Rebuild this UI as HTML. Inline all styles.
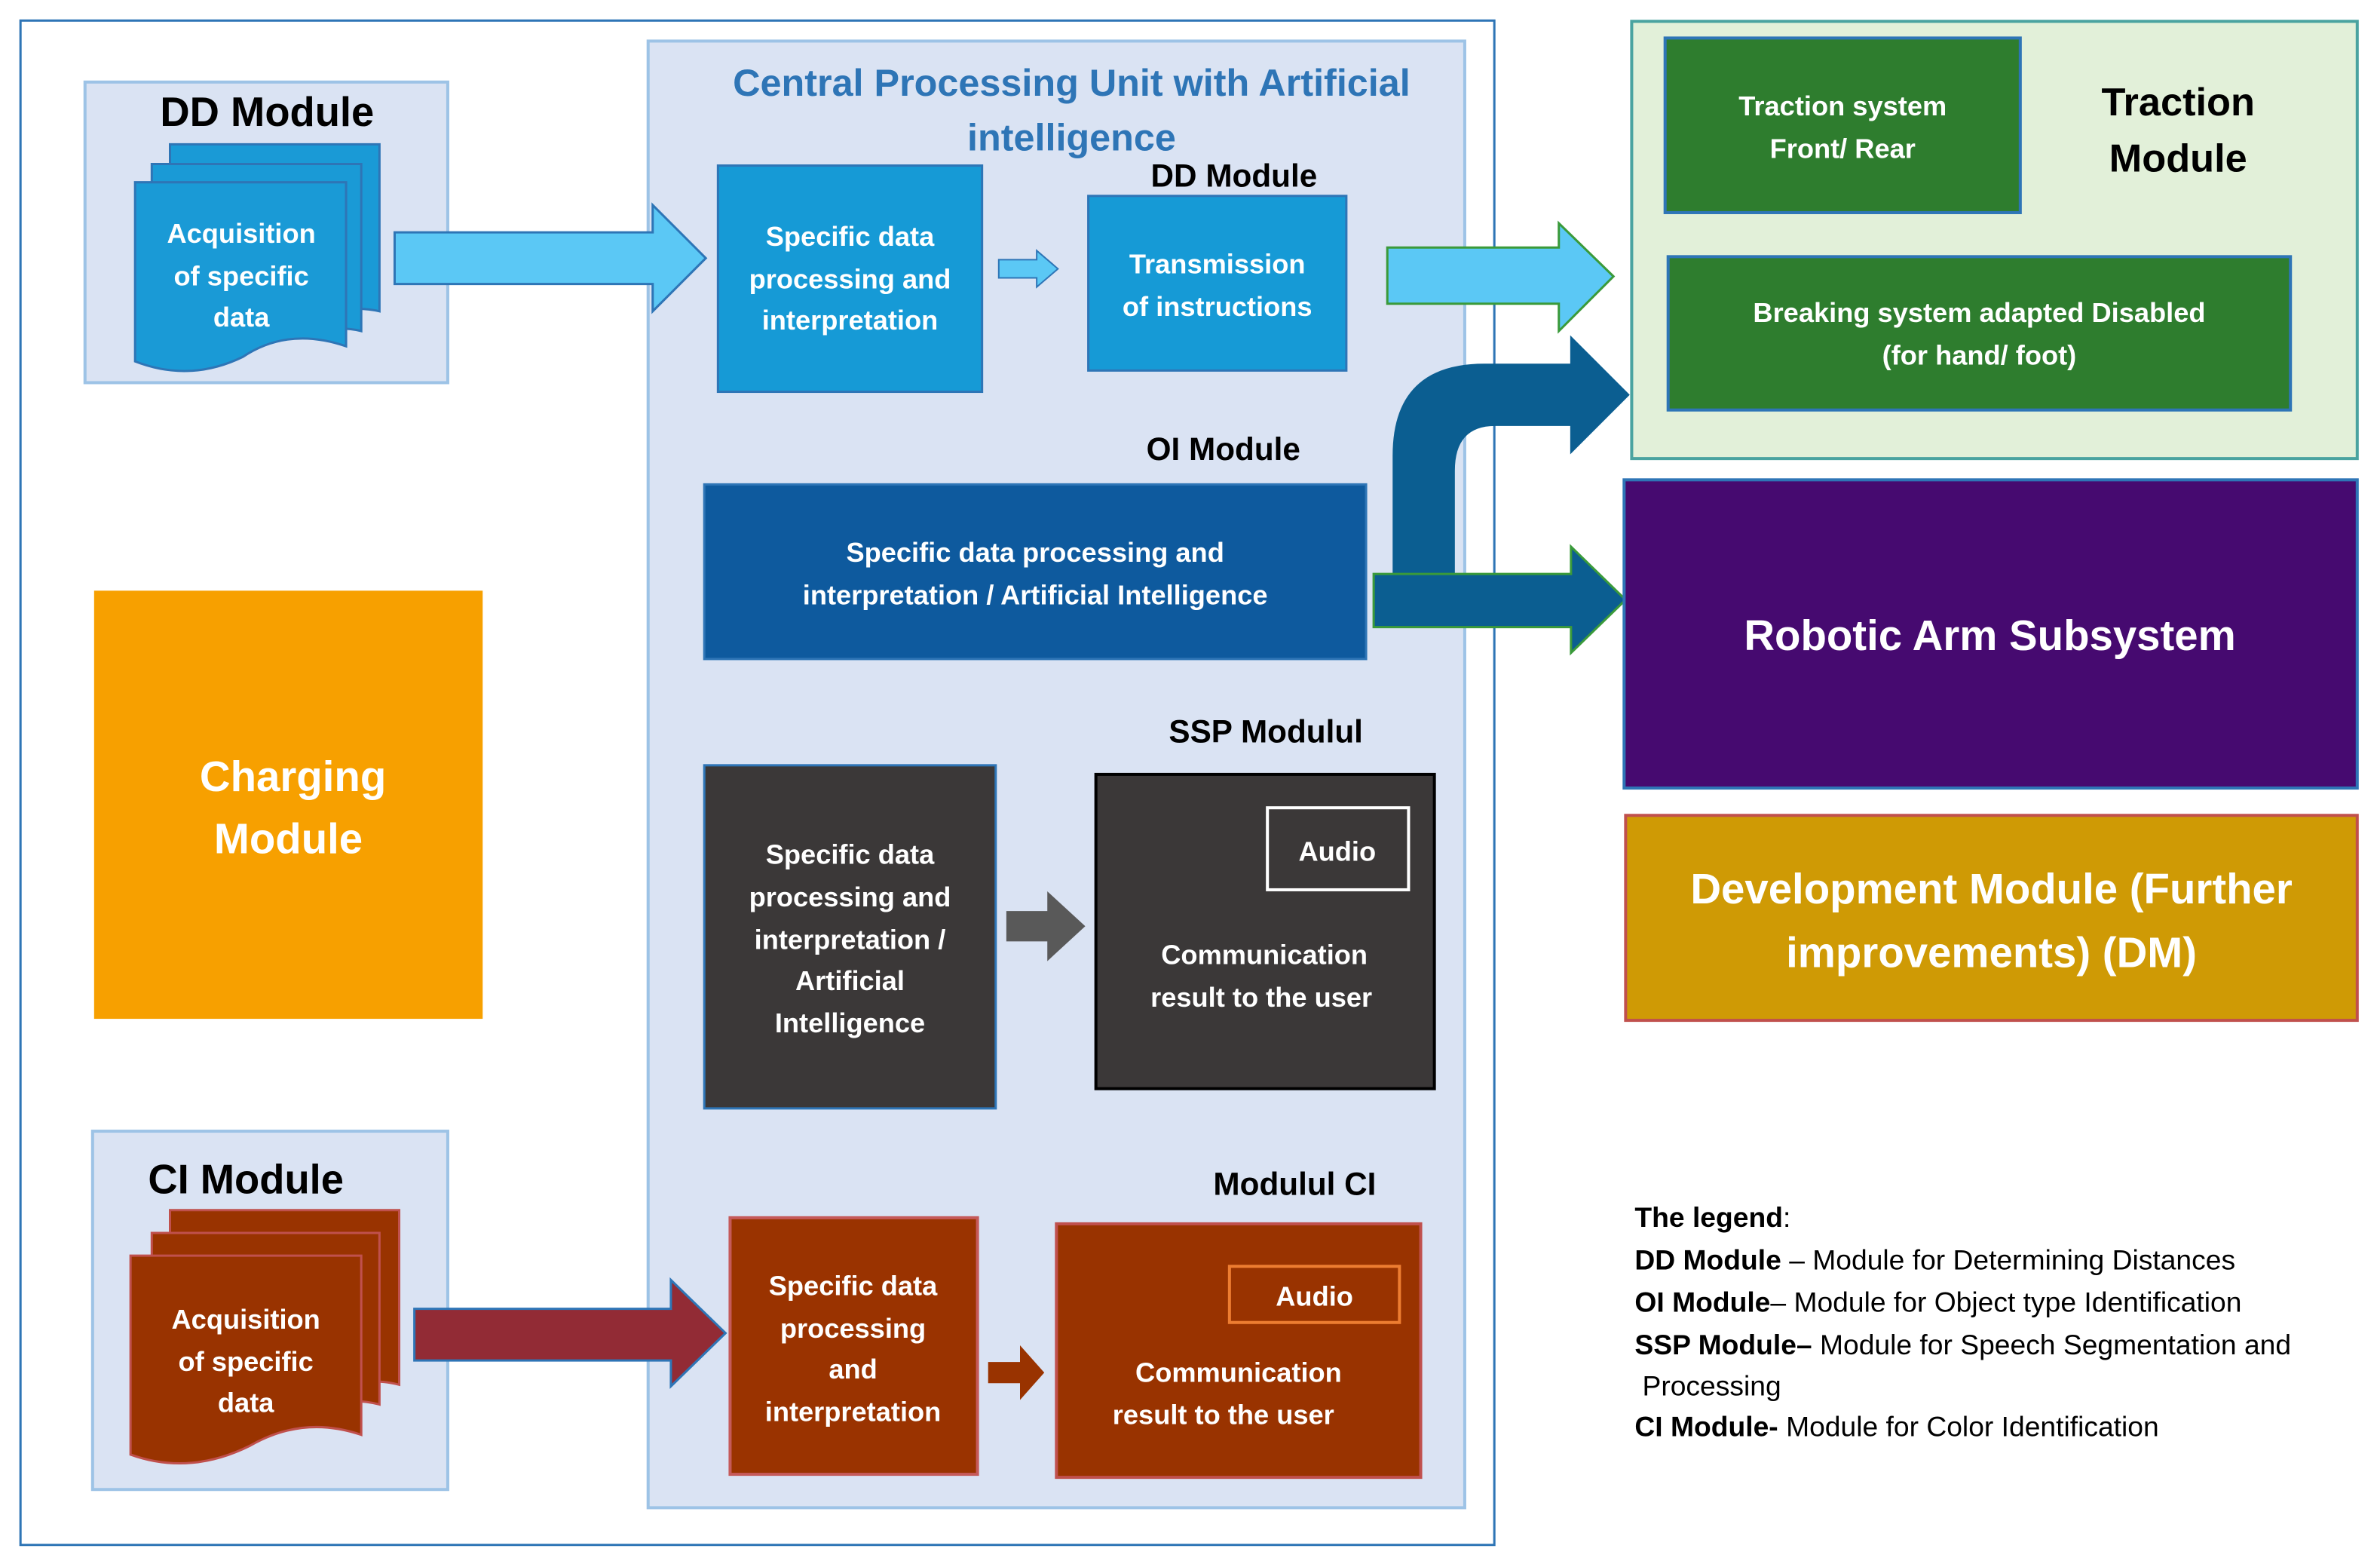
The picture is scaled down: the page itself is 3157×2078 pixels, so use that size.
<!DOCTYPE html>
<html><head><meta charset="utf-8"><style>
html,body{margin:0;padding:0;background:#fff}
svg{display:block}
text{font-family:"Liberation Sans",sans-serif;font-weight:bold}
.w{fill:#fff}
.c{text-anchor:middle}
</style></head><body>
<svg width="3157" height="2078" viewBox="0 0 1568 1032" xmlns="http://www.w3.org/2000/svg">
<rect x="0" y="0" width="1568" height="1032" fill="#fff"/>
<rect x="13.5" y="13.5" width="971" height="1004" fill="none" stroke="#2e75b6" stroke-width="1.5"/>
<rect x="427" y="27" width="538" height="966" fill="#dae3f3" stroke="#9dc3e6" stroke-width="2"/>
<text x="706" y="63" class="c" fill="#2e75b6" font-size="25">Central Processing Unit with Artificial</text>
<text x="706" y="99" class="c" fill="#2e75b6" font-size="25">intelligence</text>

<rect x="56" y="54" width="239" height="198" fill="#dae3f3" stroke="#9dc3e6" stroke-width="2"/>
<text x="176" y="83" class="c" font-size="27">DD Module</text>
<g fill="#1a9ad6" stroke="#2e75b6" stroke-width="1.5">
<path d="M112 95 H250 V205 Q230 200 200 210 L112 210 Z"/>
<path d="M100 108 H238 V218 Q218 213 188 223 L100 223 Z"/>
<path d="M89 120 H228 V228 Q190 215 160 235 Q125 252 89 238 Z"/>
</g>
<text x="159" y="160" class="c w" font-size="18">Acquisition</text>
<text x="159" y="188" class="c w" font-size="18">of specific</text>
<text x="159" y="215" class="c w" font-size="18">data</text>

<path d="M260 153 H430 V135 L465 170 L430 205 V187 H260 Z" fill="#5bc8f5" stroke="#2e75b6" stroke-width="1.5"/>
<rect x="473" y="109" width="174" height="149" fill="#169ad6" stroke="#2e75b6" stroke-width="1.5"/>
<text x="560" y="162" class="c w" font-size="18">Specific data</text>
<text x="560" y="190" class="c w" font-size="18">processing and</text>
<text x="560" y="217" class="c w" font-size="18">interpretation</text>
<path d="M658 171 H683 V165 L697 177 L683 189 V183 H658 Z" fill="#5bc8f5" stroke="#2e75b6" stroke-width="1"/>
<text x="813" y="123" class="c" font-size="21">DD Module</text>
<rect x="717" y="129" width="170" height="115" fill="#169ad6" stroke="#2e75b6" stroke-width="1.5"/>
<text x="802" y="180" class="c w" font-size="18">Transmission</text>
<text x="802" y="208" class="c w" font-size="18">of instructions</text>
<path d="M914 163 H1027 V147 L1063 182 L1027 218 V200 H914 Z" fill="#5bc8f5" stroke="#3a9a3a" stroke-width="1.5"/>

<rect x="1075" y="14" width="478" height="288" fill="#e2f0d9" stroke="#4aa3a0" stroke-width="2"/>
<rect x="1097" y="25" width="234" height="115" fill="#2e7d2e" stroke="#2e75b6" stroke-width="2"/>
<text x="1214" y="76" class="c w" font-size="18">Traction system</text>
<text x="1214" y="104" class="c w" font-size="18">Front/ Rear</text>
<text x="1435" y="76" class="c" font-size="26">Traction</text>
<text x="1435" y="113" class="c" font-size="26">Module</text>
<rect x="1099" y="169" width="410" height="101" fill="#2e7d2e" stroke="#2e75b6" stroke-width="2"/>
<text x="1304" y="212" class="c w" font-size="18">Breaking system adapted Disabled</text>
<text x="1304" y="240" class="c w" font-size="18">(for hand/ foot)</text>

<text x="806" y="303" class="c" font-size="21">OI Module</text>
<rect x="464" y="319" width="436" height="115" fill="#0e5a9e" stroke="#2e75b6" stroke-width="1.5"/>
<text x="682" y="370" class="c w" font-size="18">Specific data processing and</text>
<text x="682" y="398" class="c w" font-size="18">interpretation / Artificial Intelligence</text>
<path d="M918 380 V300 Q918 240 978 240 H1035 V222 L1073 260 L1035 298 V280 H985 Q958 280 958 310 V380 Z" fill="#0b5e91" stroke="#0b5e91" stroke-width="1"/>
<path d="M905 378 H1035 V360 L1071 395 L1035 430 V413 H905 Z" fill="#0b5e91" stroke="#3a9a3a" stroke-width="1.5"/>

<rect x="1070" y="316" width="483" height="203" fill="#460a70" stroke="#2e75b6" stroke-width="2"/>
<text x="1311" y="428" class="c w" font-size="28">Robotic Arm Subsystem</text>
<rect x="1071" y="537" width="482" height="135" fill="#cf9a05" stroke="#c0504d" stroke-width="2"/>
<text x="1312" y="595" class="c w" font-size="28">Development Module (Further</text>
<text x="1312" y="637" class="c w" font-size="28">improvements) (DM)</text>

<rect x="62" y="389" width="256" height="282" fill="#f7a000"/>
<text x="193" y="521" class="c w" font-size="28">Charging</text>
<text x="190" y="562" class="c w" font-size="28">Module</text>

<text x="834" y="489" class="c" font-size="21">SSP Modulul</text>
<rect x="464" y="504" width="192" height="226" fill="#3b3838" stroke="#2e75b6" stroke-width="1.5"/>
<text x="560" y="569" class="c w" font-size="18">Specific data</text>
<text x="560" y="597" class="c w" font-size="18">processing and</text>
<text x="560" y="625" class="c w" font-size="18">interpretation /</text>
<text x="560" y="652" class="c w" font-size="18">Artificial</text>
<text x="560" y="680" class="c w" font-size="18">Intelligence</text>
<path d="M663 600 H690 V587 L715 610 L690 633 V620 H663 Z" fill="#595959"/>
<rect x="722" y="510" width="223" height="207" fill="#3b3838" stroke="#000" stroke-width="2"/>
<rect x="835" y="532" width="93" height="54" fill="none" stroke="#fff" stroke-width="2"/>
<text x="881" y="567" class="c w" font-size="18">Audio</text>
<text x="833" y="635" class="c w" font-size="18">Communication</text>
<text x="831" y="663" class="c w" font-size="18">result  to the user</text>

<rect x="61" y="745" width="234" height="236" fill="#dae3f3" stroke="#9dc3e6" stroke-width="2"/>
<text x="162" y="786" class="c" font-size="27">CI Module</text>
<g fill="#993300" stroke="#c0504d" stroke-width="1.5">
<path d="M112 797 H263 V912 Q240 906 210 916 L112 916 Z"/>
<path d="M100 812 H250 V925 Q228 919 198 929 L100 929 Z"/>
<path d="M86 827 H238 V945 Q200 932 165 952 Q125 972 86 958 Z"/>
</g>
<text x="162" y="875" class="c w" font-size="18">Acquisition</text>
<text x="162" y="903" class="c w" font-size="18">of specific</text>
<text x="162" y="930" class="c w" font-size="18">data</text>
<path d="M273 862 H442 V843 L478 878 L442 913 V896 H273 Z" fill="#922b35" stroke="#2e75b6" stroke-width="1.5"/>
<text x="853" y="787" class="c" font-size="21">Modulul CI</text>
<rect x="481" y="802" width="163" height="169" fill="#9a3300" stroke="#c55a5a" stroke-width="2"/>
<text x="562" y="853" class="c w" font-size="18">Specific data</text>
<text x="562" y="881" class="c w" font-size="18">processing</text>
<text x="562" y="908" class="c w" font-size="18">and</text>
<text x="562" y="936" class="c w" font-size="18">interpretation</text>
<path d="M651 897 H672 V886 L688 904 L672 922 V911 H651 Z" fill="#993300"/>
<rect x="696" y="806" width="240" height="167" fill="#993300" stroke="#c0504d" stroke-width="2"/>
<rect x="810" y="834" width="112" height="37" fill="none" stroke="#ed7d31" stroke-width="2"/>
<text x="866" y="860" class="c w" font-size="18">Audio</text>
<text x="816" y="910" class="c w" font-size="18">Communication</text>
<text x="806" y="938" class="c w" font-size="18">result  to the user</text>

<g font-size="18.5">
<text x="1077" y="808">The legend<tspan font-weight="normal">:</tspan></text>
<text x="1077" y="836">DD Module <tspan font-weight="normal">– Module for  Determining  Distances</tspan></text>
<text x="1077" y="864">OI Module<tspan font-weight="normal">– Module for Object type Identification</tspan></text>
<text x="1077" y="892">SSP Module– <tspan font-weight="normal">Module for Speech Segmentation and</tspan></text>
<text x="1082" y="919" font-weight="normal" style="font-weight:normal">Processing</text>
<text x="1077" y="946">CI Module- <tspan font-weight="normal"> Module for Color Identification</tspan></text>
</g>
</svg>
</body></html>
